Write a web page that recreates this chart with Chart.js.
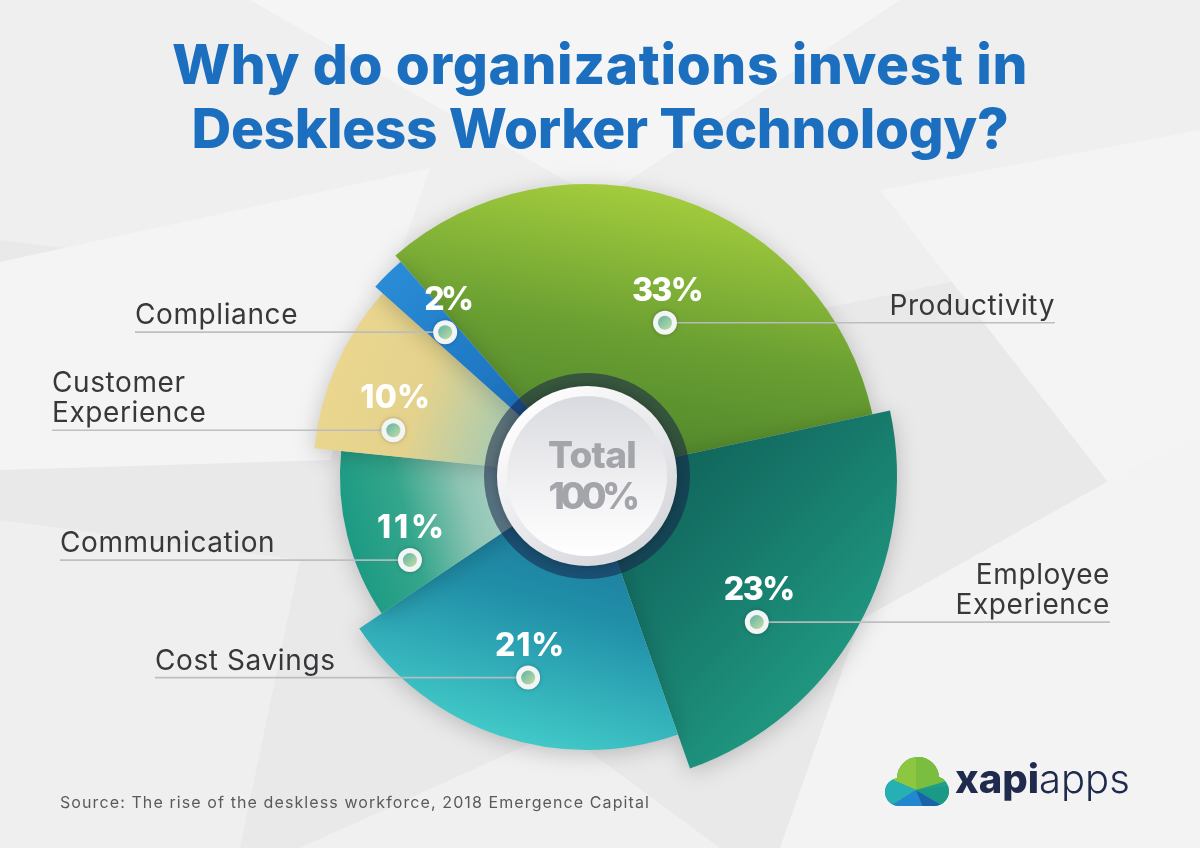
<!DOCTYPE html>
<html>
<head>
<meta charset="utf-8">
<script src="https://cdn.jsdelivr.net/npm/chart.js@4.4.1/dist/chart.umd.min.js"></script>
<style>
html,body{margin:0;padding:0;width:1200px;height:848px;overflow:hidden;background:#ebebec;font-family:Inter,"Open Sans",sans-serif;}
#bg{position:absolute;left:0;top:0;}
#chart{position:absolute;left:0;top:0;}
.title{position:absolute;left:0;width:1200px;text-align:center;color:#1b6fbe;font-weight:800;font-size:55px;line-height:60px;white-space:nowrap;}
.title span{display:inline-block;}
#source{position:absolute;left:60px;top:792px;font-size:16px;color:#5a5a5a;white-space:nowrap;}
#logo{position:absolute;left:884px;top:752px;height:60px;white-space:nowrap;}
#logo svg{position:absolute;left:0;top:4px;}
#logo .txt{position:absolute;left:71px;top:2px;font-size:40px;line-height:50px;color:#1f2a4c;}
#logo b{font-weight:800;}
#logo i{font-style:normal;font-weight:300;}
</style>
</head>
<body>
<svg id="bg" width="1200" height="848">
  <rect width="1200" height="848" fill="#e9e9ea"/>
  <polygon points="0,0 1200,0 1200,230 720,330 0,240" fill="#efeff0"/>
  <polygon points="250,0 900,0 600,200" fill="#f6f6f6" opacity="0.8"/>
  <polygon points="0,262 430,168 330,460 0,470" fill="#f4f4f5"/>
  <polygon points="880,190 1200,130 1200,600" fill="#f4f4f4"/>
  <polygon points="860,620 1200,430 1200,848 780,848" fill="#f3f3f4"/>
  <polygon points="0,520 300,560 240,848 0,848" fill="#efeff0"/>
  <polygon points="300,848 560,730 720,848" fill="#f0f0f1"/>
</svg>
<canvas id="chart" width="1200" height="848"></canvas>
<div class="title" id="t1" style="top:34px"><span>Why do organizations invest in</span></div>
<div class="title" id="t2" style="top:98px"><span>Deskless Worker Technology?</span></div>
<div id="source"><span>Source: The rise of the deskless workforce, 2018 Emergence Capital</span></div>
<div id="logo">
  <svg width="66" height="54" viewBox="0 0 66 54">
    <defs>
      <clipPath id="cloud">
        <circle cx="15" cy="36" r="14"/>
        <circle cx="34" cy="22" r="21"/>
        <circle cx="50" cy="35" r="15"/>
        <rect x="15" y="30" width="36" height="20"/>
      </clipPath>
    </defs>
    <g clip-path="url(#cloud)">
      <rect width="66" height="54" fill="#1ea08a"/>
      <polygon points="0,0 66,0 66,14 32,34 0,20" fill="#8dc640"/>
      <polygon points="32,0 66,0 66,24 32,34" fill="#7bbd3e"/>
      <polygon points="0,20 32,34 0,54" fill="#27b0b4"/>
      <polygon points="0,54 32,34 40,54" fill="#2387cf"/>
      <polygon points="32,34 66,54 40,54" fill="#1b62ad"/>
      <polygon points="32,34 66,30 66,54" fill="#1a9a86"/>
    </g>
  </svg>
  <div class="txt"><b>xapi</b><i>apps</i></div>
</div>
<script>
// ---- data ----
const categories = ['Productivity', 'Employee Experience', 'Cost Savings', 'Communication', 'Customer Experience', 'Compliance'];
const shares = [33, 23, 21, 11, 10, 2];
const shareLabels = ['33%', '23%', '21%', '11%', '10%', '2%'];
const totalLines = ['Total', '100%'];

// ---- styles ----
const baseRadius = 310;
const radiusFactor = [0.942, 1.0, 0.884, 0.797, 0.884, 0.916];
const gradAngle = [10, 135, 195, 255, 290, 315];
const gradColors = [
  ['#4b822b', '#6a9f32', '#a3cc3d'],
  ['#0f5d55', '#16786a', '#1f967f'],
  ['#196e95', '#2190a9', '#41c9c7'],
  ['#d0e0da', '#b9d6cc', '#8fc5b4', '#34a68c', '#1c9a83'],
  ['#4db9c6', '#a9cbb0', '#e4d28c', '#ead68f'],
  ['#1a54a0', '#1f78c4', '#2a8cd6']
];
const dotT = [0.572, 0.639, 0.472, 0.212, 0.208, 0.5];
const dotR = [172, 224, 210, 196, 199, 202];
const labelWrap = [false, true, false, false, true, false];
const labelSide = ['right', 'right', 'left', 'left', 'left', 'left'];
const labelEdge = [1055, 1110, 155, 60, 52, 135];

function fitSpan(el, target) {
  const span = el.querySelector('span') || el;
  const n = span.textContent.length;
  const w = span.getBoundingClientRect().width;
  span.style.letterSpacing = ((target - w) / n) + 'px';
}
fitSpan(document.getElementById('t1'), 856);
fitSpan(document.getElementById('t2'), 817);
fitSpan(document.getElementById('source'), 590);

function fitText(ctx, text, target) {
  ctx.letterSpacing = '0px';
  const w = ctx.measureText(text).width;
  ctx.letterSpacing = ((target - w) / text.length) + 'px';
}

function makeGradient(chart, i) {
  const area = chart.chartArea;
  if (!area) return gradColors[i][1];
  const cx = (area.left + area.right) / 2, cy = (area.top + area.bottom) / 2;
  const a = gradAngle[i] * Math.PI / 180;
  const R = baseRadius * radiusFactor[i];
  const g = chart.ctx.createLinearGradient(cx, cy, cx + R * Math.sin(a), cy - R * Math.cos(a));
  const cols = gradColors[i];
  cols.forEach((c, k) => g.addColorStop(k / (cols.length - 1), c));
  return g;
}

const shapePlugin = {
  id: 'shape',
  afterDatasetUpdate(chart, args) {
    const meta = args.meta;
    meta.data.forEach((arc, i) => {
      arc.outerRadius = baseRadius * radiusFactor[i];
      arc.innerRadius = 0;
    });
  },
  beforeDatasetsDraw(chart) {
    const ctx = chart.ctx;
    ctx.save();
    ctx.shadowColor = 'rgba(0,0,0,0.2)';
    ctx.shadowBlur = 22;
    ctx.shadowOffsetY = 4;
  },
  afterDatasetsDraw(chart) {
    const ctx = chart.ctx;
    ctx.restore();
    const meta = chart.getDatasetMeta(0);
    const cx = meta.data[0].x, cy = meta.data[0].y;

    // dark ring
    ctx.save();
    ctx.beginPath();
    ctx.arc(cx, cy, 103, 0, Math.PI * 2);
    ctx.arc(cx, cy, 88, 0, Math.PI * 2, true);
    ctx.fillStyle = 'rgba(22,34,72,0.55)';
    ctx.fill();
    ctx.restore();

    // white disc
    ctx.save();
    ctx.shadowColor = 'rgba(0,0,0,0.25)';
    ctx.shadowBlur = 10;
    ctx.beginPath();
    ctx.arc(cx, cy, 90, 0, Math.PI * 2);
    let g = ctx.createLinearGradient(cx - 60, cy - 80, cx + 60, cy + 80);
    g.addColorStop(0, '#ffffff');
    g.addColorStop(1, '#d4d5da');
    ctx.fillStyle = g;
    ctx.fill();
    ctx.restore();
    ctx.beginPath();
    ctx.arc(cx, cy, 80, 0, Math.PI * 2);
    g = ctx.createLinearGradient(cx, cy - 80, cx, cy + 80);
    g.addColorStop(0, '#d9dadf');
    g.addColorStop(0.6, '#f2f2f4');
    g.addColorStop(1, '#ffffff');
    ctx.fillStyle = g;
    ctx.fill();

    // center text
    ctx.save();
    ctx.fillStyle = '#a4a5ab';
    ctx.font = '800 37px Inter, sans-serif';
    ctx.textAlign = 'center';
    ctx.textBaseline = 'middle';
    fitText(ctx, totalLines[0], 88);
    ctx.fillText(totalLines[0], cx + 5, cy - 19);
    fitText(ctx, totalLines[1], 87);
    ctx.fillText(totalLines[1], cx + 5, cy + 22);
    ctx.restore();

    // labels, leaders, dots
    meta.data.forEach((arc, i) => {
      const ang = arc.startAngle + dotT[i] * (arc.endAngle - arc.startAngle);
      const dx = arc.x + dotR[i] * Math.cos(ang);
      const dy = arc.y + dotR[i] * Math.sin(ang);
      const right = labelSide[i] === 'right';
      const edge = labelEdge[i];

      // leader line
      ctx.save();
      ctx.strokeStyle = 'rgba(185,188,190,0.95)';
      ctx.lineWidth = 1.6;
      ctx.beginPath();
      ctx.moveTo(dx, dy);
      ctx.lineTo(edge, dy);
      ctx.stroke();
      ctx.restore();

      // dot
      ctx.save();
      ctx.shadowColor = 'rgba(0,0,0,0.25)';
      ctx.shadowBlur = 4;
      ctx.beginPath();
      ctx.arc(dx, dy, 12, 0, Math.PI * 2);
      ctx.fillStyle = '#f3f4f4';
      ctx.fill();
      ctx.restore();
      ctx.beginPath();
      ctx.arc(dx, dy, 7, 0, Math.PI * 2);
      const dg = ctx.createLinearGradient(dx - 7, dy - 7, dx + 7, dy + 7);
      dg.addColorStop(0, '#5fb2a8');
      dg.addColorStop(1, '#c4dea2');
      ctx.fillStyle = dg;
      ctx.fill();

      // percent
      ctx.save();
      ctx.fillStyle = '#ffffff';
      ctx.font = '800 32px Inter, sans-serif';
      ctx.textAlign = 'center';
      ctx.textBaseline = 'alphabetic';
      fitText(ctx, shareLabels[i], shareLabels[i].length === 2 ? 46 : 70);
      ctx.fillText(shareLabels[i], dx + 2, dy - 22);
      ctx.restore();

      // category label
      ctx.save();
      ctx.fillStyle = '#38383a';
      ctx.font = '400 28px Inter, sans-serif';
      ctx.textAlign = 'left';
      ctx.textBaseline = 'alphabetic';
      const lines = labelWrap[i] ? categories[i].split(' ') : [categories[i]];
      lines.forEach((ln, k) => {
        const base = dy - 8 - (lines.length - 1 - k) * 30;
        ctx.letterSpacing = '0.6px';
        const w = ctx.measureText(ln).width;
        const x = right ? edge - w : edge;
        ctx.fillText(ln, x, base);
      });
      ctx.restore();
    });
  }
};

new Chart(document.getElementById('chart'), {
  type: 'doughnut',
  data: {
    labels: categories,
    datasets: [{
      data: shares,
      radius: baseRadius,
      cutout: 0,
      borderWidth: 0,
      backgroundColor: (c) => makeGradient(c.chart, c.dataIndex)
    }]
  },
  options: {
    responsive: false,
    devicePixelRatio: 1,
    animation: false,
    events: [],
    rotation: -41,
    layout: { padding: { left: 287, right: 313, top: 176, bottom: 72 } },
    plugins: { legend: { display: false }, tooltip: { enabled: false }, title: { display: false } }
  },
  plugins: [shapePlugin]
});
</script>
</body>
</html>
